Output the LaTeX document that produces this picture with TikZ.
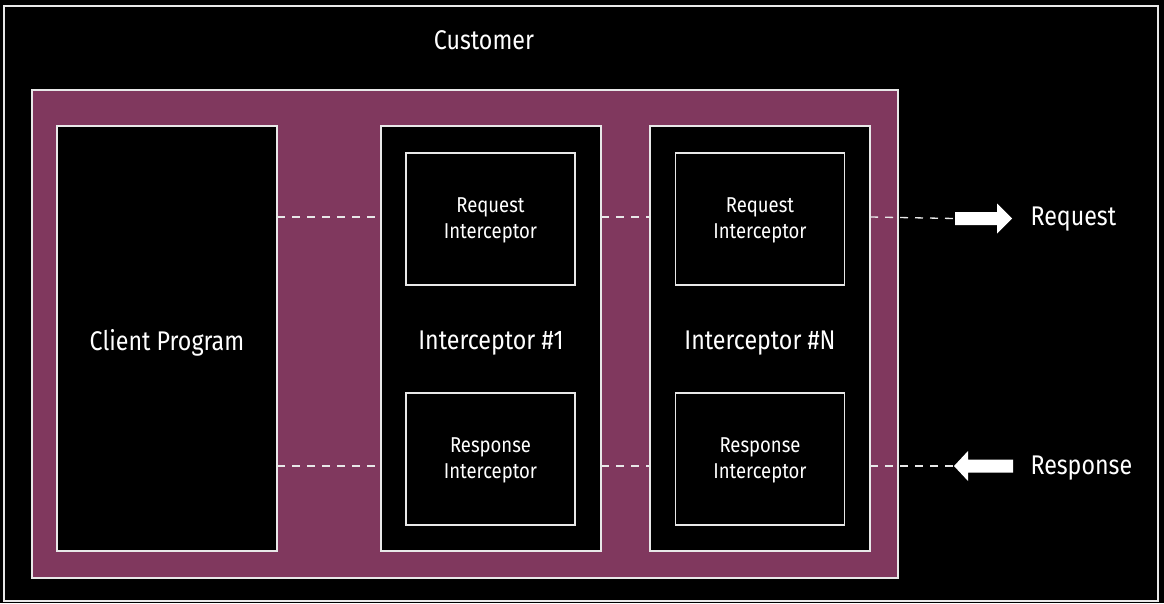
\documentclass[tikz,border=0pt]{standalone}
\usepackage{fontspec}
\setmainfont{Fira Sans}[FakeStretch=0.86]
\definecolor{plum}{HTML}{80385E}
\definecolor{edge}{HTML}{E8E8E8}
\begin{document}
\begin{tikzpicture}[x=1pt,y=-1pt,
  box/.style={draw=edge,line width=1.4pt,fill=black,inner sep=0,outer sep=0},
  lbl/.style={text=white,font=\fontsize{27}{30}\selectfont,align=center},
  small/.style={text=white,font=\fontsize{21.5}{26}\selectfont,align=center},
  dashline/.style={draw=edge,line width=1.3pt,dash pattern=on 8pt off 7pt},
  fatarrow/.style={fill=white,draw=none}]
\fill[black] (0,0) rectangle (1164,603);
\useasboundingbox (0,0) rectangle (1164,603);
\draw[edge,line width=1.3pt] (4,6) rectangle (1158,601);
\node[lbl] (cust) at (484,40) {Customer};
\draw[edge,line width=1.4pt,fill=plum] (32,90) rectangle (898,578);
% columns
\node[box,minimum width=220pt,minimum height=425pt] (client) at (167,338.5) {};
\node[lbl] (clientt) at (167,343) {Client Program};
\node[box,minimum width=220pt,minimum height=425pt] (i1) at (491,338.5) {};
\node[lbl] (i1t) at (491,343) {Interceptor \#1};
\node[box,minimum width=220pt,minimum height=425pt] (iN) at (760,338.5) {};
\node[lbl] (iNt) at (760,343) {Interceptor \#N};
% inner boxes
\node[box,minimum width=169pt,minimum height=132pt] (req1) at (490.5,219) {};
\node[small] at ([yshift=-1pt]req1) {Request\\Interceptor};
\node[box,minimum width=169pt,minimum height=132pt] (res1) at (490.5,459) {};
\node[small] at ([yshift=-1pt]res1) {Response\\Interceptor};
\node[box,minimum width=169pt,minimum height=132pt] (reqN) at (760,219) {};
\node[small] at ([yshift=-1pt]reqN) {Request\\Interceptor};
\node[box,minimum width=169pt,minimum height=132pt] (resN) at (760,459) {};
\node[small] at ([yshift=-1pt]resN) {Response\\Interceptor};
% fat arrows
\coordinate (areq) at (955,218.5);
\coordinate (ares) at (954,466);
\fill[fatarrow] (areq) ++(0,-6.5) -- ++(42,0) -- ++(0,-8.5) -- ++(15,15) -- ++(-15,15) -- ++(0,-8.5) -- ++(-42,0) -- cycle;
\fill[fatarrow] (ares) -- ++(14,-15) -- ++(0,8.5) -- ++(45,0) -- ++(0,13) -- ++(-45,0) -- ++(0,8.5) -- cycle;
\node[lbl,anchor=west] (treq) at (1027,219.5) {Request};
\node[lbl,anchor=west] (tres) at (1027,468.5) {Response};
% dashed connectors
\draw[dashline] (client.east |- 0,217) -- (i1.west |- 0,217);
\draw[dashline] (i1.east |- 0,217) -- (iN.west |- 0,217);
\draw[dashline] (iN.east |- 0,217) -- (areq);
\draw[dashline] (client.east |- 0,466) -- (i1.west |- 0,466);
\draw[dashline] (i1.east |- 0,466) -- (iN.west |- 0,466);
\draw[dashline] (iN.east |- 0,466) -- (ares);
\end{tikzpicture}
\end{document}
